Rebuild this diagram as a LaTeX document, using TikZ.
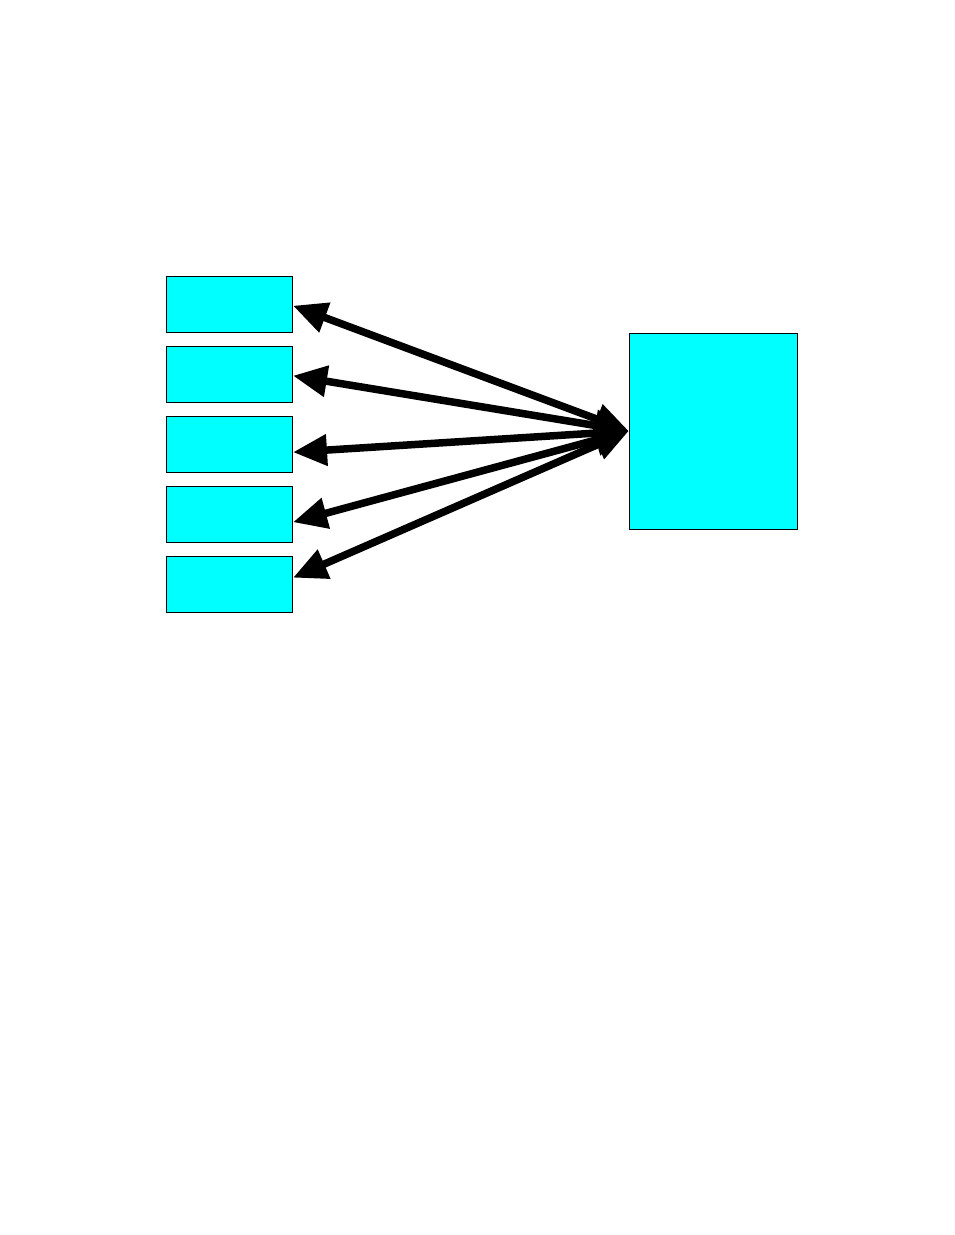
\documentclass[tikz,border=0pt]{standalone}
\usetikzlibrary{positioning,arrows.meta}
\definecolor{boxcyan}{RGB}{0,255,255}
\tikzset{
	unit/.style = {
		shape=rectangle,
		draw,
		line width=1pt,
		fill=boxcyan,
		inner sep=0pt,
		minimum width=126pt,
		minimum height=56pt
	},
	link/.style = {
		line width=7.5pt,
		{Triangle[length=34pt,width=30pt]}-{Triangle[length=34pt,width=30pt]}
	}
}
\begin{document}
\begin{tikzpicture}[x=1pt,y=-1pt]
		\useasboundingbox (0,0) rectangle (954,1235);
		\node[unit] (u1) at (229.5,304.7) {};
		\node[unit, below=13pt of u1] (u2) {};
		\node[unit, below=13pt of u2] (u3) {};
		\node[unit, below=13pt of u3] (u4) {};
		\node[unit, below=13pt of u4] (u5) {};
		\node[unit, minimum width=168pt, minimum height=196pt] (hub) at (713.3,431) {};
		\draw[link] ([yshift=-1pt]u1.east) -- (hub.west);
		\draw[link] ([yshift=-1pt]u2.east) -- (hub.west);
		\draw[link] ([yshift=-7.5pt]u3.east) -- (hub.west);
		\draw[link] ([yshift=-7.5pt]u4.east) -- (hub.west);
		\draw[link] ([yshift=7pt]u5.east) -- (hub.west);
\end{tikzpicture}
\end{document}
